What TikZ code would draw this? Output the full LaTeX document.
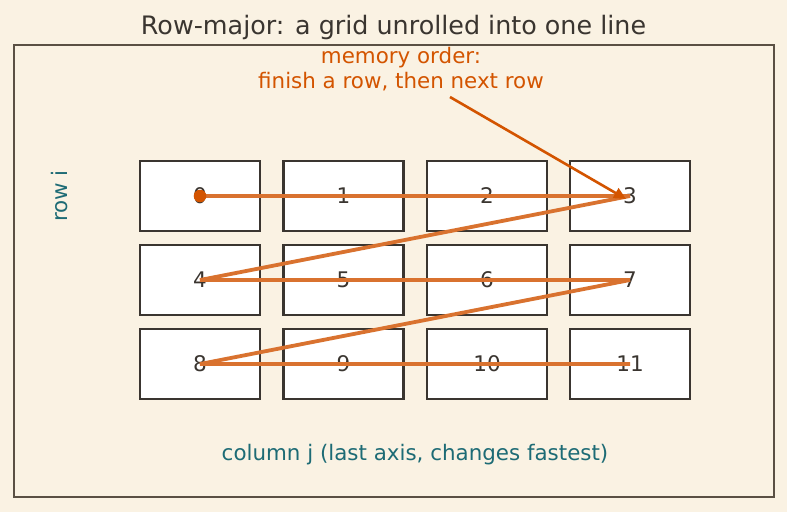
\documentclass[tikz,border=0pt]{standalone}
\usepackage{fontspec}
\setmainfont{DejaVu Sans}
\usetikzlibrary{arrows.meta}
\definecolor{bg}{HTML}{FAF2E3}
\definecolor{ink}{HTML}{3A3530}
\definecolor{frame}{HTML}{5A5044}
\definecolor{path}{HTML}{D9722F}
\definecolor{accent}{HTML}{D35400}
\definecolor{teal}{HTML}{1D6B75}
\tikzset{
  cell/.style={draw=ink, line width=2.8pt, fill=white, minimum width=120pt, minimum height=70pt, inner sep=0pt, text=ink, font=\fontsize{21.5}{24}\selectfont},
  walk/.style={draw=path, line width=3.8pt},
  lab/.style={font=\fontsize{21.4}{25}\selectfont},
}
\begin{document}
\begin{tikzpicture}[x=1pt,y=-1pt]
\fill[bg] (0,0) rectangle (787,512);
\useasboundingbox (0,0) rectangle (787,512);
\node[font=\fontsize{25.4}{30}\selectfont, text=ink] (title) at (393.5,27) {Row-major: a grid unrolled into one line};
\draw[frame, line width=1.4pt] (14,45) rectangle (774,497);
\foreach \r/\y in {0/196,1/280,2/364}{
  \foreach \c/\x in {0/200,1/343.5,2/487,3/630}{
    \pgfmathtruncatemacro{\n}{4*\r+\c}
    \node[cell] (c\n) at (\x,\y) {\n};
  }
}
\draw[walk] (c0.center) -- (c3.center) -- (c4.center) -- (c7.center) -- (c8.center) -- (c11.center);
\fill[accent] (c0.center) circle (6.3);
\node[align=center, text=accent, lab] (note) at (401,69) {memory order:\\finish a row, then next row};
\coordinate (nstart) at (450,97);
\draw[accent, line width=2.6pt, -{Stealth[length=12pt,width=11pt,inset=0pt]}] (nstart) -- ([xshift=-4pt,yshift=-3pt]c3.center);
\node[rotate=90, text=teal, lab] (rowlab) at (60,196) {row i};
\node[text=teal, lab] (collab) at (415,455) {column j (last axis, changes fastest)};
\end{tikzpicture}
\end{document}
